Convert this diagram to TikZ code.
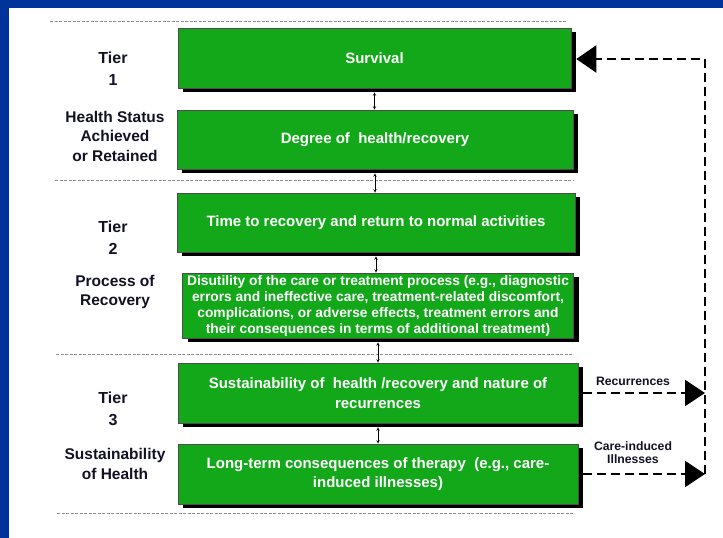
\documentclass[tikz,border=0pt]{standalone}
\usepackage{fontspec}
\setmainfont{Liberation Sans}
\usetikzlibrary{arrows.meta,shadows}
\definecolor{frameblue}{RGB}{0,51,153}
\definecolor{boxgreen}{RGB}{18,168,26}
\definecolor{labelink}{RGB}{18,18,36}
\begin{document}
\begin{tikzpicture}[x=1pt,y=-1pt,
  stage/.style={fill=boxgreen, draw=black!70, line width=0.6pt, text=white,
    font=\bfseries\fontsize{15}{19.5}\selectfont, align=center, inner sep=0pt,
    drop shadow={shadow xshift=5pt, shadow yshift=-4pt, fill=black, opacity=1}},
  tierlabel/.style={text=labelink, font=\bfseries\fontsize{16}{22}\selectfont, align=center},
  grouplabel/.style={text=labelink, font=\bfseries\fontsize{15.5}{19.5}\selectfont, align=center},
  sidelabel/.style={text=labelink, font=\bfseries\fontsize{12.2}{13}\selectfont, align=center},
  separator/.style={draw=black!45, line width=0.8pt, dash pattern=on 3pt off 1.5pt},
  link/.style={{Stealth[length=3.5pt,width=3.5pt,open]}-{Stealth[length=3.5pt,width=3.5pt,open]}, line width=0.5pt},
  feedback/.style={line width=2.2pt, dash pattern=on 9pt off 5pt},
  bighead/.style={-{Triangle[length=20pt,width=26pt]}}
]
% frame and page
\fill[frameblue] (0,0) rectangle (723,538);
\fill[white] (8.5,8) rectangle (723,538);
\useasboundingbox (0,0) rectangle (723,538);

% tier separators
\draw[separator] (50,21) -- (567,21);
\draw[separator] (55,180) -- (573,180);
\draw[separator] (56,354) -- (573,354);
\draw[separator] (57,513) -- (573,513);

% outcome stages
\node[stage, minimum width=393pt, minimum height=60pt] (surv) at (374.5,58) {Survival};
\node[stage, minimum width=396pt, minimum height=59pt] (deg) at (375,139.5) {Degree of\ \ health/recovery};
\node[stage, minimum width=398pt, minimum height=59pt] (time) at (376,222.5) {Time to recovery and return to normal activities};
\node[stage, minimum width=391pt, minimum height=65pt, font=\bfseries\fontsize{13.8}{16}\selectfont] (dis) at (378,305.5)
  {Disutility of the care or treatment process (e.g., diagnostic\\errors and ineffective care, treatment-related discomfort,\\complications, or adverse effects, treatment errors and\\their consequences in terms of additional treatment)};
\node[stage, minimum width=400pt, minimum height=60pt] (sus) at (378,393) {Sustainability of\ \ health /recovery and nature of\\recurrences};
\node[stage, minimum width=400pt, minimum height=60pt] (lt) at (378,474) {Long-term consequences of therapy\ \ (e.g., care-\\induced illnesses)};

% links between stages
\draw[link, shorten <=4pt] (surv.south) -- (surv.south |- deg.north);
\draw[link, shorten <=4pt] (deg.south) -- (deg.south |- time.north);
\draw[link, shorten <=4pt] (time.south) -- (time.south |- dis.north);
\draw[link, shorten <=4pt] (dis.south) -- (dis.south |- sus.north);
\draw[link, shorten <=4pt] (sus.south) -- (sus.south |- lt.north);

% tier labels
\node[tierlabel] (t1) at (113,69) {Tier\\1};
\node[grouplabel] (g1) at (115,136) {Health Status\\Achieved\\or Retained};
\node[tierlabel] (t2) at (113,238) {Tier\\2};
\node[grouplabel] (g2) at (115,292) {Process of\\Recovery};
\node[tierlabel] (t3) at (113,409) {Tier\\3};
\node[grouplabel] (g3) at (115,464) {Sustainability\\of Health};

% feedback loop
\coordinate (looptop) at (705,59);
\coordinate (loopbot) at (lt.east -| looptop);
\draw[feedback, bighead] ([xshift=5pt]sus.east) -- (sus.east -| looptop);
\draw[feedback, bighead] ([xshift=5pt]lt.east) -- (loopbot);
\draw[feedback, -{Triangle[length=20pt,width=27pt]}] (loopbot) -- (looptop) -- ([xshift=5pt]surv.east |- looptop);
\node[sidelabel] (rec) at (633,381) {Recurrences};
\node[sidelabel] (cii) at (633,453) {Care-induced\\Illnesses};
\end{tikzpicture}
\end{document}
